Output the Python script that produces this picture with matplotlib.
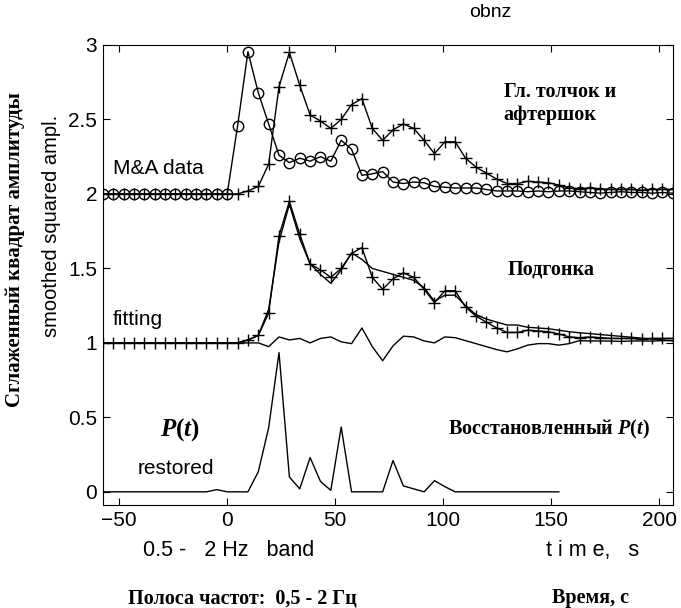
import numpy as np
import matplotlib
matplotlib.use('Agg')
from matplotlib import pyplot as plt

plt.rcParams['font.family'] = ['Liberation Sans', 'DejaVu Sans']
plt.rcParams['mathtext.fontset'] = 'custom'
plt.rcParams['mathtext.it'] = 'Liberation Serif:italic:bold'
plt.rcParams['mathtext.rm'] = 'Liberation Serif:bold'

# sample times, s (step ~4.8 s)
t = 4.8 * np.arange(-12, 44)

# M&A data (circles), amplitude above its baseline
ma_data = [0] * 13 + [
    0.455, 0.955, 0.68, 0.47, 0.26, 0.21, 0.24, 0.22, 0.25, 0.22, 0.36, 0.30, 0.125,
    0.135, 0.15, 0.08, 0.07, 0.08, 0.075, 0.05, 0.045, 0.04, 0.04, 0.04, 0.03, 0.02,
    0.02, 0.02, 0.015, 0.02, 0.015, 0.02, 0.02, 0.015, 0.01, 0.005, 0.01, 0.015,
    0.01, 0.01, 0.005, 0.01, 0.005]

# main shock + aftershock (plus markers)
main = [0] * 13 + [
    0.0, 0.02, 0.05, 0.20, 0.72, 0.95, 0.73, 0.53, 0.49, 0.44, 0.50, 0.60, 0.64,
    0.44, 0.36, 0.43, 0.47, 0.44, 0.36, 0.27, 0.35, 0.35, 0.24, 0.18, 0.14, 0.10,
    0.07, 0.07, 0.085, 0.08, 0.075, 0.06, 0.04, 0.035,
    0.04, 0.035, 0.03, 0.03, 0.03, 0.025, 0.03, 0.03, 0.03]

# fitted curve
fit = [0] * 14 + [
    0.02, 0.05, 0.225, 0.68, 0.93, 0.70, 0.53, 0.46, 0.40, 0.49, 0.605, 0.56,
    0.50, 0.48, 0.46, 0.44, 0.42, 0.37, 0.28, 0.32, 0.32, 0.25, 0.19, 0.16, 0.14,
    0.12, 0.12, 0.105, 0.10, 0.095, 0.085, 0.075, 0.068, 0.062, 0.056, 0.05,
    0.044, 0.038, 0.032, 0.026, 0.02, 0.015]

# residual of the fit
resid = [0] * 16 + [
    -0.025, 0.04, 0.02, 0.03, 0.0, 0.03, 0.04, 0.007, -0.005, 0.10, -0.025, -0.12,
    -0.02, 0.045, 0.04, 0.013, 0.0, 0.04, 0.035, 0.015, -0.005, -0.025, -0.045,
    -0.06, -0.04, -0.015, -0.005, -0.005, -0.015, -0.005, 0.015,
    0.013, 0.013, 0.012, 0.01, 0.013, 0.013, 0.012, 0.015, 0.015]

# restored P(t)
restored = [0] * 11 + [0.015, 0, 0, 0,
    0.135, 0.43, 0.935, 0.10, 0.02, 0.23, 0.07, 0.01, 0.435, 0.0, 0.0, 0.0, 0.0,
    0.21, 0.04, 0.02, 0.0, 0.075, 0.035] + [0] * 11

ma_data = np.array(ma_data)
main = np.array(main)
fit = np.array(fit)
resid = np.array(resid)
restored = np.array(restored)

fig = plt.figure(figsize=(6.81, 6.08), dpi=100)
ax = fig.add_axes([0.151, 0.169, 0.837, 0.757])

# top: data, offset 2
ax.plot(t, ma_data + 2, 'k-', marker='o', mfc='none', ms=7.5, mew=1, lw=1)
ax.plot(t, main + 2, 'k-', marker='+', ms=8, mew=1, lw=1)
# middle: fit, offset 1
ax.plot(t, main + 1, 'k-', marker='+', ms=8, mew=1, lw=1)
ax.plot(t, fit + 1, 'k-', lw=1)
ax.plot(t, resid + 1, 'k-', lw=1)
# bottom: restored
ax.plot(t[:len(restored)], restored, 'k-', lw=1)

ax.set_xlim(-57.6, 206.4)
ax.set_ylim(-0.09, 3.0)
ax.set_xticks([-50, 0, 50, 100, 150, 200])
ax.set_yticks([0, 0.5, 1, 1.5, 2, 2.5, 3])
ax.set_yticklabels(['0', '0.5', '1', '1.5', '2', '2.5', '3'])
ax.tick_params(direction='in', top=True, right=True, length=5, labelsize=15, pad=4)

serif_b = dict(family='Liberation Serif', weight='bold', fontsize=14.5)
ax.text(128, 2.61, 'Гл. толчок и\nафтершок', va='center', linespacing=1.2, **serif_b)
ax.text(130, 1.49, 'Подгонка', va='center', **serif_b)
ax.text(102.5, 0.42, 'Восстановленный $\\mathit{P(t)}$', va='center', **serif_b)
ax.text(-31, 0.42, '$\\mathit{P(t)}$', va='center', fontsize=18)
ax.text(-52.8, 2.17, 'M&A data', va='center', fontsize=15)
ax.text(-52.8, 1.16, 'fitting', va='center', fontsize=15)
ax.text(-41.7, 0.155, 'restored', va='center', fontsize=15)

fig.text(0.72, 0.98, 'obnz', ha='center', va='center', fontsize=14)
fig.text(0.21, 0.094, '0.5 -   2 Hz   band', va='center', fontsize=15.5)
fig.text(0.802, 0.094, 't i m e,   s', va='center', fontsize=15.5)
fig.text(0.188, 0.016, 'Полоса частот:  0,5 - 2 Гц', va='center', **serif_b)
fig.text(0.811, 0.016, 'Время, с', va='center', **serif_b)
fig.text(0.076, 0.628, 'smoothed squared ampl.', rotation=90, ha='center', va='center', fontsize=14.5)
fig.text(0.022, 0.589, 'Сглаженный квадрат амплитуды', rotation=90, ha='center', va='center',
         family='Liberation Serif', weight='bold', fontsize=15)

fig.savefig('out.png', dpi=100)
